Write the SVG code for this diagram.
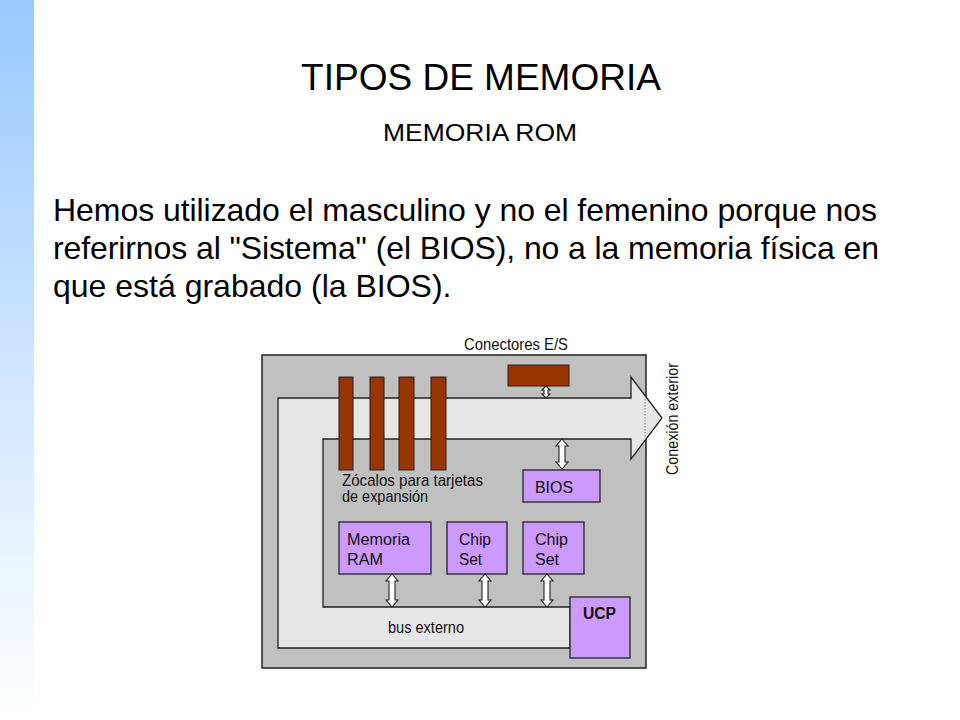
<svg xmlns="http://www.w3.org/2000/svg" width="960" height="720" viewBox="0 0 960 720">
<defs>
<linearGradient id="side" x1="0" y1="0" x2="0" y2="1">
<stop offset="0" stop-color="#99c8ff"/>
<stop offset="0.55" stop-color="#d4e7ff"/>
<stop offset="1" stop-color="#ffffff"/>
</linearGradient>
<style>
.t{font-family:"Liberation Sans",Arial,sans-serif;fill:#000}
.d{font-family:"Liberation Sans",Arial,sans-serif;fill:#111;font-size:16px}
.chip{fill:#cc99ff;stroke:#222;stroke-width:1.3}
.slot{fill:#993300;stroke:#222;stroke-width:1}
.dbl{fill:#ffffff;stroke:#222;stroke-width:1.1}
</style>
</defs>
<rect width="960" height="720" fill="#ffffff"/>
<rect x="0" y="0" width="34" height="720" fill="url(#side)"/>

<text class="t" x="481" y="90" font-size="37" text-anchor="middle">TIPOS DE MEMORIA</text>
<text class="t" x="480" y="141" font-size="24" text-anchor="middle" textLength="194" lengthAdjust="spacingAndGlyphs">MEMORIA ROM</text>
<text class="t" font-size="32">
<tspan x="53" y="221" textLength="824">Hemos utilizado el masculino y no el femenino porque nos</tspan>
<tspan x="53" y="259" textLength="826">referirnos al "Sistema" (el BIOS), no a la memoria física en</tspan>
<tspan x="53" y="297">que está grabado (la BIOS).</tspan>
</text>

<g id="board">
<rect x="262" y="355" width="384" height="313" fill="#c0c0c0" stroke="#222" stroke-width="1.5"/>
</g>
<g id="bus">
<path d="M278,648 V398 H631 V377 L662,418 L631,459 V439 H323 V607 H570 V648 Z" fill="#e6e6e6" stroke="#222" stroke-width="1.3"/>
<line x1="645" y1="399" x2="645" y2="438" stroke="#888" stroke-width="1" stroke-dasharray="1.5,1.5"/>
</g>
<g id="slots">
<rect class="slot" x="339" y="377" width="14" height="93"/>
<rect class="slot" x="370" y="377" width="14" height="93"/>
<rect class="slot" x="399" y="377" width="15" height="93"/>
<rect class="slot" x="431" y="377" width="15" height="93"/>
</g>
<g id="conectores">
<rect class="slot" x="508" y="365" width="61" height="21"/>
</g>
<g id="bios">
<rect class="chip" x="523" y="470" width="77" height="32"/>
<text class="d" x="535" y="493" font-size="16.5" textLength="38" lengthAdjust="spacingAndGlyphs">BIOS</text>
</g>
<g id="ram">
<rect class="chip" x="339" y="522" width="92" height="52"/>
<text class="d" x="347" y="545" textLength="63" lengthAdjust="spacingAndGlyphs">Memoria</text>
<text class="d" x="347" y="565" textLength="36" lengthAdjust="spacingAndGlyphs">RAM</text>
</g>
<g id="chipset1">
<rect class="chip" x="447" y="522" width="60" height="52"/>
<text class="d" x="459" y="545" textLength="32" lengthAdjust="spacingAndGlyphs">Chip</text>
<text class="d" x="459" y="565" textLength="23" lengthAdjust="spacingAndGlyphs">Set</text>
</g>
<g id="chipset2">
<rect class="chip" x="523" y="522" width="61" height="52"/>
<text class="d" x="535" y="545" textLength="33" lengthAdjust="spacingAndGlyphs">Chip</text>
<text class="d" x="535" y="565" textLength="24" lengthAdjust="spacingAndGlyphs">Set</text>
</g>
<g id="ucp">
<rect class="chip" x="570" y="597" width="60" height="61"/>
<text class="d" x="583" y="619" font-weight="bold" textLength="33" lengthAdjust="spacingAndGlyphs">UCP</text>
</g>

<g id="connectors">
<polygon class="dbl" points="546,386 550,390 548,390 548,394 550,394 546,398 542,394 544,394 544,390 542,390"/>
<polygon class="dbl" points="562,439 568,446 565,446 565,462 568,462 562,469 556,462 559,462 559,446 556,446"/>
<polygon class="dbl" points="392,574 398,581 395,581 395,600 398,600 392,607 386,600 389,600 389,581 386,581"/>
<polygon class="dbl" points="485,574 491,581 488,581 488,600 491,600 485,607 479,600 482,600 482,581 479,581"/>
<polygon class="dbl" points="547,574 553,581 550,581 550,600 553,600 547,607 541,600 544,600 544,581 541,581"/>
</g>

<g id="labels">
<text class="d" x="464" y="350" font-size="14" textLength="104" lengthAdjust="spacingAndGlyphs">Conectores E/S</text>
<text class="d" x="342" y="486" font-size="13.5" textLength="141" lengthAdjust="spacingAndGlyphs">Zócalos para tarjetas</text>
<text class="d" x="342" y="502" font-size="13.5" textLength="86" lengthAdjust="spacingAndGlyphs">de expansión</text>
<text class="d" x="388" y="633" font-size="15" textLength="76" lengthAdjust="spacingAndGlyphs">bus externo</text>
<text class="d" font-size="14" transform="translate(678,475) rotate(-90)" textLength="112" lengthAdjust="spacingAndGlyphs">Conexión exterior</text>
</g>
</svg>
